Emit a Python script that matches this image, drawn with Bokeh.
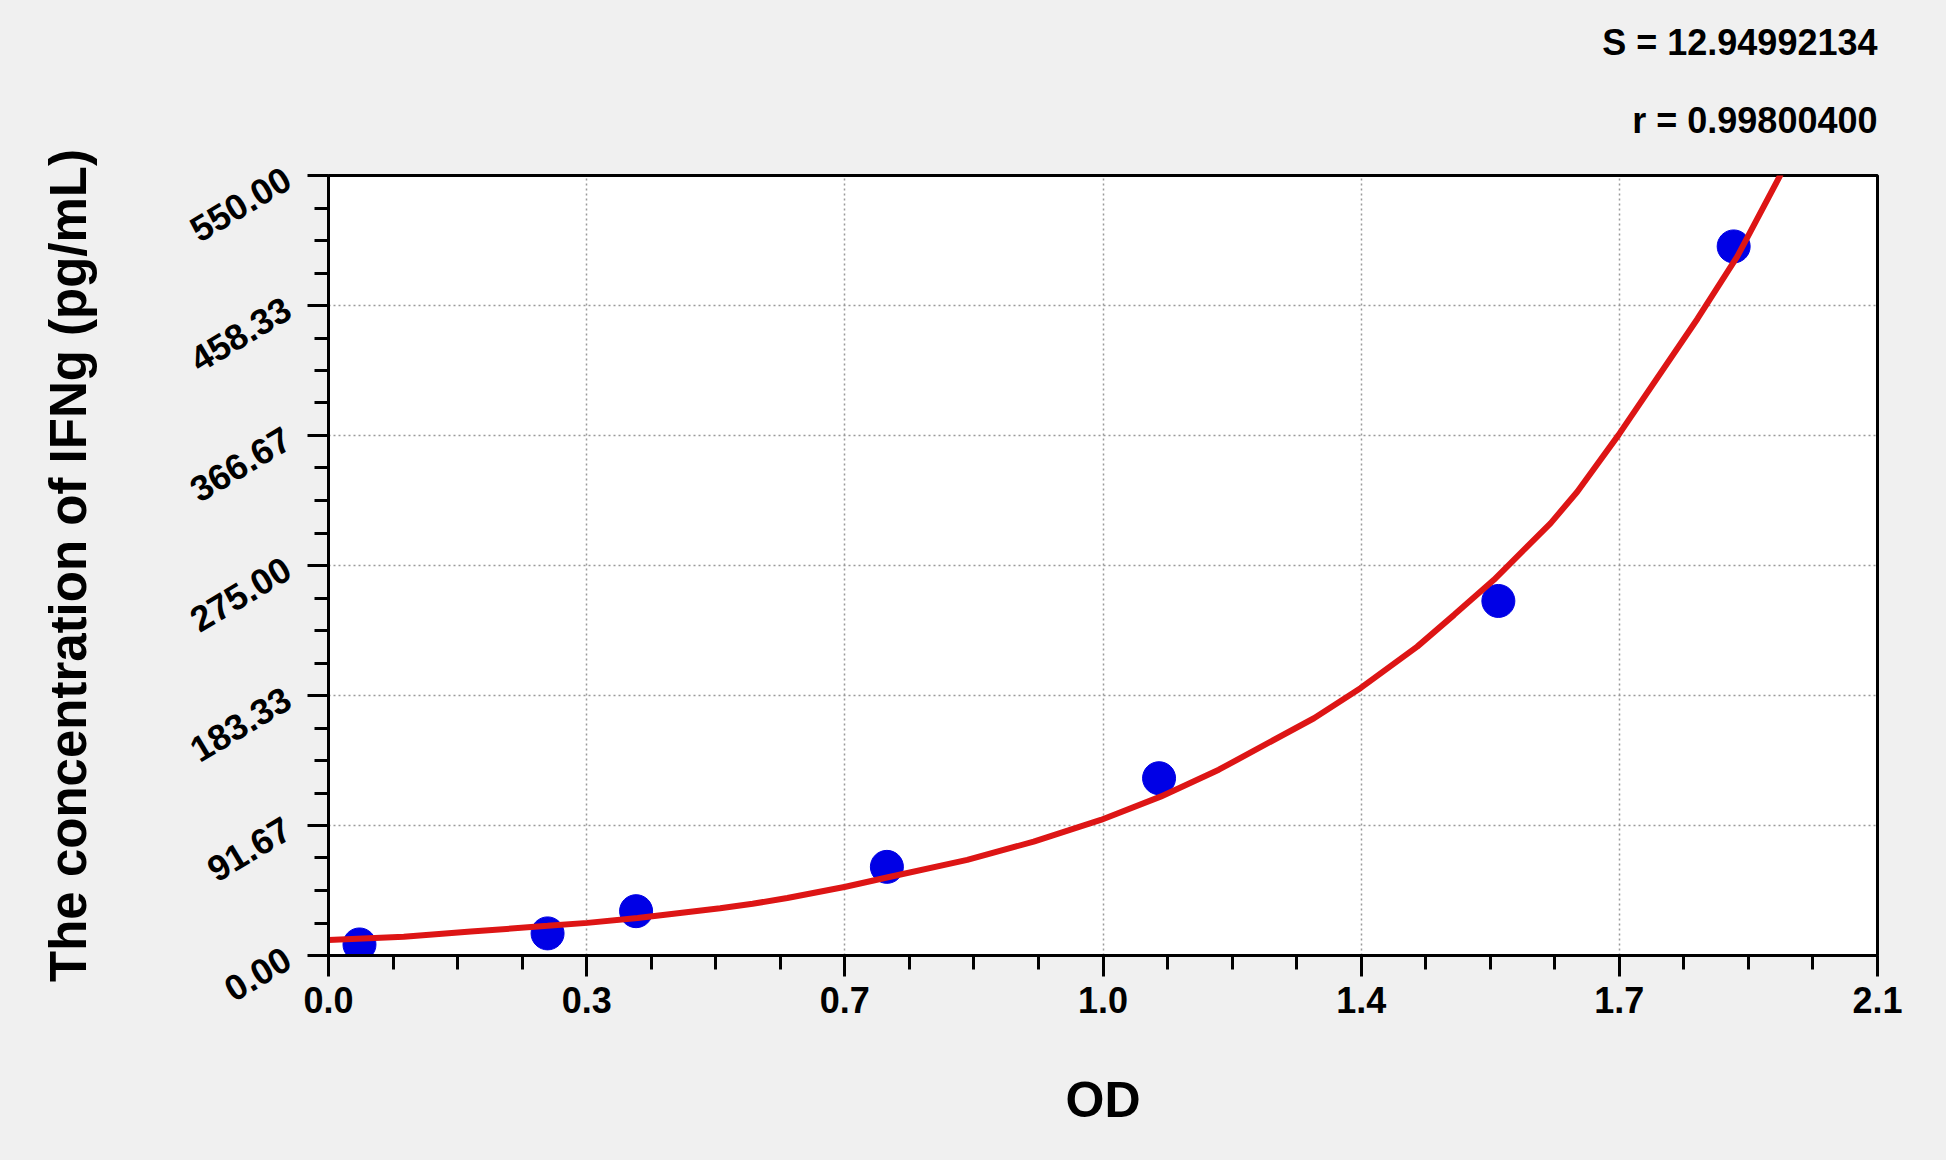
import numpy as np
from bokeh.plotting import figure
from bokeh.models import Range1d, FixedTicker, CustomJSTickFormatter, Title
from bokeh.embed import file_html
from bokeh.resources import INLINE

# ---- data ----
od = [0.042, 0.297, 0.417, 0.757, 1.126, 1.586, 1.905]
conc = [7.8, 15.6, 31.25, 62.5, 125.0, 250.0, 500.0]

fit_od = [0.0, 0.102, 0.193, 0.297, 0.351, 0.419, 0.531, 0.575, 0.622, 0.701, 0.757, 0.866, 0.956,
          1.047, 1.128, 1.207, 1.336, 1.399, 1.476, 1.526, 1.580, 1.657, 1.693, 1.749, 1.856, 1.910, 1.969]
fit_conc = [11.0, 13.3, 16.9, 20.9, 23.0, 26.5, 33.3, 36.5, 40.5, 48.5, 55.0, 67.4, 80.3,
            95.6, 112.0, 131.0, 167.3, 188.5, 217.8, 240.2, 264.9, 304.9, 327.0, 367.1, 449.0, 493.0, 551.0]

x_ticks = [0.0, 0.35, 0.70, 1.05, 1.40, 1.75, 2.10]
x_tick_labels = ["0.0", "0.3", "0.7", "1.0", "1.4", "1.7", "2.1"]
y_ticks = [0.0, 91.6667, 183.3333, 275.0, 366.6667, 458.3333, 550.0]
y_tick_labels = ["0.00", "91.67", "183.33", "275.00", "366.67", "458.33", "550.00"]

stat_lines = ["S = 12.94992134", "r = 0.99800400"]

FONT = "Liberation Sans"

p = figure(width=1946, height=1160, output_backend="svg", toolbar_location=None,
           x_range=Range1d(0, 2.1), y_range=Range1d(0, 550),
           min_border_left=328, min_border_right=69, min_border_top=175, min_border_bottom=205)

p.border_fill_color = "#f0f0f0"
p.background_fill_color = "white"
p.outline_line_color = "black"
p.outline_line_width = 3


def minors(ticks, n):
    out = []
    for a, b in zip(ticks[:-1], ticks[1:]):
        out += [float(v) for v in np.linspace(a, b, n + 1)[1:-1]]
    return out


p.xaxis.ticker = FixedTicker(ticks=x_ticks, minor_ticks=minors(x_ticks, 4))
p.yaxis.ticker = FixedTicker(ticks=y_ticks, minor_ticks=minors(y_ticks, 4))

fmt_code = """
let best = 0;
for (let i = 0; i < tk.length; i++) {
  if (Math.abs(tk[i] - tick) < Math.abs(tk[best] - tick)) best = i;
}
return lb[best];
"""
p.xaxis.formatter = CustomJSTickFormatter(args=dict(tk=x_ticks, lb=x_tick_labels), code=fmt_code)
p.yaxis.formatter = CustomJSTickFormatter(args=dict(tk=y_ticks, lb=y_tick_labels), code=fmt_code)

for ax in (p.xaxis, p.yaxis):
    ax.axis_line_color = "black"
    ax.axis_line_width = 3
    ax.major_tick_line_color = "black"
    ax.major_tick_line_width = 3
    ax.minor_tick_line_color = "black"
    ax.minor_tick_line_width = 3
    ax.major_tick_out = 21
    ax.major_tick_in = 0
    ax.minor_tick_out = 14
    ax.minor_tick_in = 0
    ax.major_label_text_font = FONT
    ax.major_label_text_font_style = "bold"
    ax.major_label_text_font_size = "36px"
    ax.major_label_text_color = "black"
    ax.axis_label_text_font = FONT
    ax.axis_label_text_font_style = "bold"
    ax.axis_label_text_color = "black"

p.xaxis.axis_label = "OD"
p.xaxis.axis_label_text_font_size = "50px"
p.xaxis.major_label_standoff = 10
p.xaxis.axis_label_standoff = 56

p.yaxis.axis_label = "The concentration of IFNg (pg/mL)"
p.yaxis.axis_label_text_font_size = "51px"
p.yaxis.major_label_orientation = 0.54
p.yaxis.major_label_standoff = 20
p.yaxis.axis_label_standoff = 80

for g in (p.xgrid, p.ygrid):
    g.grid_line_color = "#9a9a9a"
    g.grid_line_width = 1.5
    g.grid_line_dash = "2 3"

p.scatter(od, conc, size=33, marker="circle", fill_color="#0000E6", line_color="#0000E6")
p.line(fit_od, fit_conc, line_color="#DD1515", line_width=6)

# stats text, right-aligned above the plot frame (nearest line added first)
p.add_layout(Title(text=stat_lines[1], align="right", text_font=FONT, text_font_style="bold",
                   text_font_size="36px", text_color="black", standoff=70), "above")
p.add_layout(Title(text=stat_lines[0], align="right", text_font=FONT, text_font_style="bold",
                   text_font_size="36px", text_color="black", standoff=0), "above")

template = """
{% block postamble %}
<style>html, body { background: #f0f0f0; margin: 0; padding: 0; overflow: hidden; }</style>
{% endblock %}
"""

open("out.html", "w").write(file_html(p, INLINE, template=template))
